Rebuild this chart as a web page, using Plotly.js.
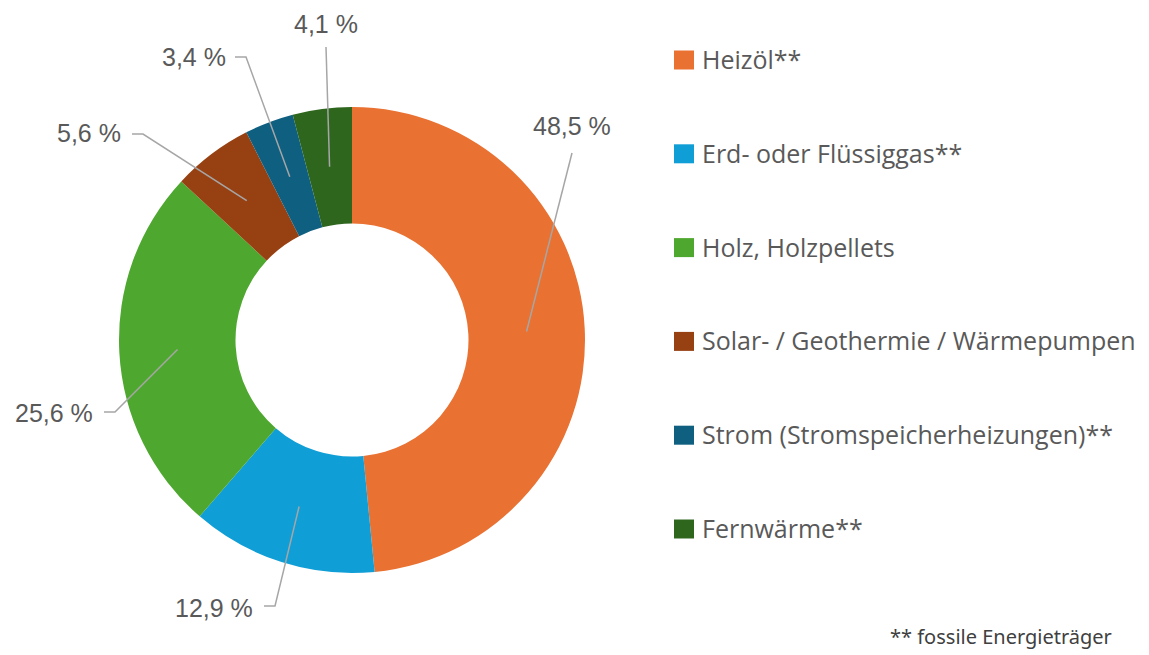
<!DOCTYPE html>
<html>
<head>
<meta charset="utf-8">
<script src="https://cdn.plot.ly/plotly-3.0.1.min.js"></script>
<style>html,body{margin:0;padding:0;background:#fff;}#chart{width:1149px;height:655px;}</style>
</head>
<body>
<div id="chart"></div>
<script>
// ---- data ----
const categories = ["Heizöl**", "Erd- oder Flüssiggas**", "Holz, Holzpellets", "Solar- / Geothermie / Wärmepumpen", "Strom (Stromspeicherheizungen)**", "Fernwärme**"];
const shares = [48.5, 12.9, 25.6, 5.6, 3.4, 4.1];
const footnote = "** fossile Energieträger";

// ---- style / layout ----
const colors = ["#E97132", "#109ED6", "#4EA72E", "#974113", "#0E5F80", "#2E661E"];
const W = 1149, H = 655;
const cx = 352, cy = 340, R = 233, hole = 0.5;
// label placement (pixel positions of label text centre and leader elbow)
const labelPos = [
  {tx: 572, ty: 126, elbow: [[572, 153]]},
  {tx: 214, ty: 608, elbow: [[264, 606], [275, 606]]},
  {tx: 54,  ty: 413, elbow: [[104, 412], [115, 412]]},
  {tx: 89,  ty: 133, elbow: [[132, 134], [143, 134]]},
  {tx: 194, ty: 57,  elbow: [[235, 57], [246, 57]]},
  {tx: 326, ty: 24,  elbow: [[326, 47]]}
];
const legendX = 674, legendY0 = 60, legendStep = 93.8;

const px = x => x / W;
const py = y => 1 - y / H;

const shapes = [];
const annotations = [];
const total = shares.reduce((a, b) => a + b, 0);
let cum = 0;
const rA = R * (1 + hole) / 2;
shares.forEach((v, i) => {
  const frac = (cum + v / 2) / total;
  cum += v;
  const th = frac * 2 * Math.PI;
  const ax = cx + rA * Math.sin(th);
  const ay = cy - rA * Math.cos(th);
  const lp = labelPos[i];
  const pts = lp.elbow.concat([[ax, ay]]);
  let path = "M " + px(pts[0][0]) + "," + py(pts[0][1]);
  for (let k = 1; k < pts.length; k++) path += " L " + px(pts[k][0]) + "," + py(pts[k][1]);
  shapes.push({type: "path", xref: "paper", yref: "paper", path: path,
    line: {color: "#A6A6A6", width: 1.5}});
  annotations.push({xref: "paper", yref: "paper", x: px(lp.tx), y: py(lp.ty),
    xanchor: "center", yanchor: "middle", showarrow: false,
    text: v.toFixed(1).replace(".", ",") + " %",
    font: {family: "Liberation Sans, Arial, sans-serif", size: 25, color: "#595959"}});
});

// legend
categories.forEach((c, i) => {
  const yc = legendY0 + i * legendStep;
  shapes.push({type: "rect", xref: "paper", yref: "paper",
    x0: px(legendX), x1: px(legendX + 20), y0: py(yc - 9.5), y1: py(yc + 9.5),
    fillcolor: colors[i], line: {width: 0}});
  annotations.push({xref: "paper", yref: "paper", x: px(legendX + 26), y: py(yc - 1),
    xanchor: "left", yanchor: "middle", showarrow: false, text: c,
    font: {family: "Open Sans, sans-serif", size: 25, color: "#595959"}});
});
annotations.push({xref: "paper", yref: "paper", x: px(1114), y: py(636),
  xanchor: "right", yanchor: "middle", showarrow: false, text: footnote,
  font: {family: "Noto Sans, sans-serif", size: 20, color: "#404040"}});

const trace = {
  type: "pie",
  values: shares,
  labels: categories,
  marker: {colors: colors, line: {width: 0}},
  hole: hole,
  sort: false,
  direction: "clockwise",
  rotation: 0,
  textinfo: "none",
  hoverinfo: "label+value",
  showlegend: false,
  domain: {x: [(cx - R) / W, (cx + R) / W], y: [(H - cy - R) / H, (H - cy + R) / H]}
};

Plotly.newPlot("chart", [trace], {
  width: W, height: H,
  margin: {l: 0, r: 0, t: 0, b: 0},
  paper_bgcolor: "#ffffff",
  showlegend: false,
  shapes: shapes,
  annotations: annotations
}, {displayModeBar: false, staticPlot: true});
</script>
</body>
</html>
